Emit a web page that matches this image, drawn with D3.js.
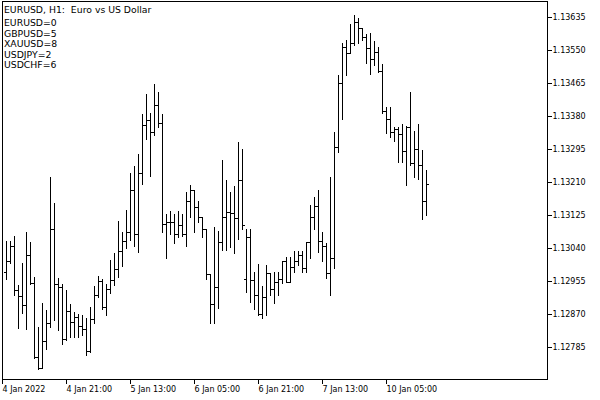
<!DOCTYPE html>
<html><head><meta charset="utf-8">
<script src="https://cdn.jsdelivr.net/npm/d3@7"></script>
<style>html,body{margin:0;padding:0;background:#fff;}svg{display:block;}</style>
</head><body>
<svg id="chart" width="600" height="400" xml:space="preserve"></svg>
<script>
// Bar index 0 = 4 Jan 2022 06:00 (H1 bars)
const opens = [112977,113007,113046,112931,112916,112892,113021,112949,112759,112729,112800,112845,113089,112947,112938,112804,112876,112848,112862,112838,112830,112774,112856,112918,112955,112888,112934,112957,112985,113032,113057,113081,113189,113077,113234,113357,113370,113338,113409,113361,113101,113107,113106,113077,113098,113077,113160,113189,113146,113120,113088,112972,112895,112938,113054,113120,113132,113130,113117,113215,112959,113067,112957,112918,112869,112914,112974,112935,112952,112959,113006,112953,112991,113007,113021,112987,113054,113120,113148,113058,113045,112974,113015,113300,113465,113558,113544,113568,113622,113607,113583,113555,113527,113545,113497,113393,113372,113340,113348,113334,113290,113352,113260,113295,113254,113162];
const highs = [113058,113058,113070,112944,113000,113081,113056,112964,112836,112897,112879,113224,113156,112961,112947,112931,112895,112875,112869,112866,112859,112888,112941,112967,112959,112947,113010,113026,113109,113082,113138,113234,113251,113282,113385,113437,113389,113463,113442,113385,113127,113135,113127,113135,113127,113184,113201,113190,113161,113120,113088,112972,113094,113083,113267,113215,113185,113200,113313,113295,113090,113089,112978,112998,112941,112996,112975,112978,112978,113007,113017,113017,113033,113033,113033,113056,113150,113172,113189,113082,113052,113224,113340,113486,113568,113576,113618,113641,113632,113607,113592,113594,113574,113559,113514,113404,113403,113353,113353,113360,113354,113443,113342,113360,113292,113241];
const lows = [112959,113002,112918,112832,112872,112830,112948,112757,112728,112729,112778,112835,112854,112828,112793,112802,112811,112811,112811,112815,112763,112772,112847,112914,112881,112867,112924,112944,112964,112993,113039,113060,113045,113030,113206,113320,113226,113331,113351,113080,113015,113076,113053,113069,113070,113045,113119,113082,113107,113067,112960,112845,112847,112885,113034,113034,113043,113027,113062,113090,112927,112901,112881,112868,112860,112868,112918,112898,112918,112949,112952,112952,112978,112996,112978,112978,113013,113090,113030,113007,112961,112918,112989,113288,113372,113486,113544,113564,113568,113576,113518,113488,113512,113495,113387,113336,113325,113316,113262,113262,113202,113254,113224,113219,113114,113125];
const closes = [113007,113046,112931,112916,112892,113021,112949,112759,112729,112800,112845,113089,112947,112938,112804,112876,112848,112862,112838,112830,112774,112856,112918,112955,112888,112934,112957,112985,113032,113057,113081,113189,113077,113234,113357,113370,113338,113409,113361,113101,113107,113106,113077,113098,113077,113160,113189,113146,113120,113088,112972,112895,112938,113054,113120,113132,113130,113117,113215,113099,113067,112957,112918,112869,112914,112974,112935,112952,112959,113006,112953,112991,113007,113021,112987,113054,113120,113148,113058,113045,112974,113015,113300,113465,113558,113544,113568,113622,113607,113583,113555,113527,113545,113497,113393,113372,113340,113348,113334,113290,113352,113260,113295,113254,113162,113206];

const priceTicks = [1.13635,1.13550,1.13465,1.13380,1.13295,1.13210,1.13125,1.13040,1.12955,1.12870,1.12785];
const timeTickIndex = [-1,15,31,47,63,79,95];
const timeTickLabels = ["4 Jan 2022","4 Jan 21:00","5 Jan 13:00","6 Jan 05:00","6 Jan 21:00","7 Jan 13:00","10 Jan 05:00"];
const headerLines = ["EURUSD, H1:\u00a0 Euro vs US Dollar","EURUSD=0","GBPUSD=5","XAUUSD=8","USDJPY=2","USDCHF=6"];

const bars = opens.map((o,i)=>({i, o:o/1e5, h:highs[i]/1e5, l:lows[i]/1e5, c:closes[i]/1e5}));

const svg = d3.select("#chart");
const font = "'DejaVu Sans', sans-serif";
const x = d3.scaleLinear().domain([0,105]).range([6,426]);
const y = d3.scaleLinear().domain([1.12785,1.13635]).range([346.7,17.3]);
const px = v => Math.round(v)+0.5;

// frame
svg.append("rect").attr("x",2.5).attr("y",1.5).attr("width",545).attr("height",378)
  .attr("fill","none").attr("stroke","#000").attr("stroke-width",1).attr("shape-rendering","crispEdges");

// bars
const g = svg.append("g").attr("stroke","#000").attr("stroke-width",1).attr("shape-rendering","crispEdges");
bars.forEach(b=>{
  const cx = px(x(b.i));
  g.append("line").attr("x1",cx).attr("x2",cx).attr("y1",Math.round(y(b.h))).attr("y2",Math.round(y(b.l))+1);
  g.append("line").attr("x1",cx-2.5).attr("x2",cx-0.5).attr("y1",px(y(b.o))).attr("y2",px(y(b.o)));
  g.append("line").attr("x1",cx+0.5).attr("x2",cx+2.5).attr("y1",px(y(b.c))).attr("y2",px(y(b.c)));
});

// right price axis
const ya = d3.axisRight(y).tickValues(priceTicks).tickFormat(d=>d.toFixed(5)).tickSize(4).tickPadding(1);
const yg = svg.append("g").attr("transform","translate(547.5,0)").call(ya);
yg.select(".domain").remove();
yg.selectAll(".tick").attr("transform",d=>"translate(0,"+px(y(d))+")");
yg.selectAll(".tick line").attr("stroke","#000").attr("shape-rendering","crispEdges");
yg.selectAll("text").attr("font-family",font).attr("font-size","8px").attr("fill","#000");

// bottom time axis
const xa = d3.axisBottom(x).tickValues(timeTickIndex).tickFormat((d,k)=>timeTickLabels[k]).tickSize(4).tickPadding(3);
const xg = svg.append("g").attr("transform","translate(0,379.5)").call(xa);
xg.select(".domain").remove();
xg.selectAll(".tick").attr("transform",d=>"translate("+(d<0?2.5:px(x(d)))+",0)");
xg.selectAll(".tick line").attr("stroke","#000").attr("shape-rendering","crispEdges");
xg.selectAll("text").attr("font-family",font).attr("font-size","8px").attr("fill","#000")
  .attr("text-anchor","start").attr("x",0);

// header
const base = [13,26,36.5,47,57.5,68];
svg.append("g").selectAll("text").data(headerLines).join("text")
  .attr("x",4).attr("y",(d,k)=>base[k]).attr("font-family",font).attr("font-size","9.3px").attr("fill","#000")
  .text(d=>d);
</script>
</body></html>
